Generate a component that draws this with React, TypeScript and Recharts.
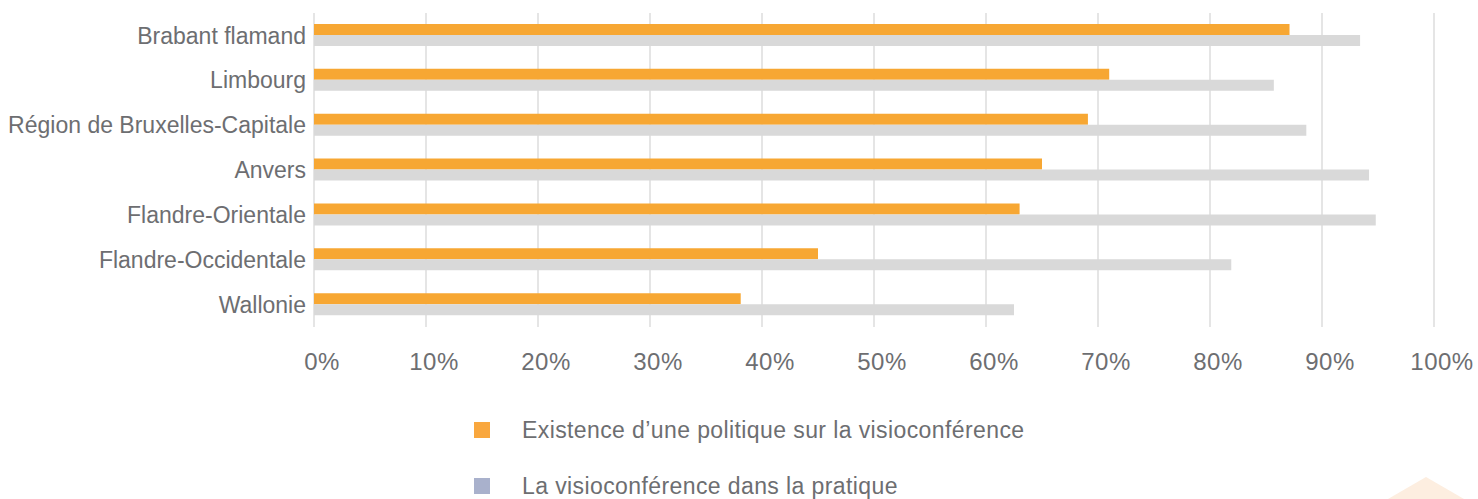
import { BarChart, Bar, XAxis, YAxis, CartesianGrid } from "recharts";

const regions = [
  "Brabant flamand",
  "Limbourg",
  "Région de Bruxelles-Capitale",
  "Anvers",
  "Flandre-Orientale",
  "Flandre-Occidentale",
  "Wallonie",
];
const politique = [87.1, 71.0, 69.1, 65.0, 63.0, 45.0, 38.1];
const pratique = [93.4, 85.7, 88.6, 94.2, 94.8, 81.9, 62.5];
const xTicks = [0, 10, 20, 30, 40, 50, 60, 70, 80, 90, 100];

const SERIES = [
  { key: "politique", label: "Existence d’une politique sur la visioconférence", fill: "#f7a733", swatch: "#f9a73e" },
  { key: "pratique", label: "La visioconférence dans la pratique", fill: "#d9d9d9", swatch: "#a9b1cc" },
];

const data = regions.map((region, i) => ({
  region,
  politique: politique[i],
  pratique: pratique[i],
}));

const TEXT = "#6d6e71";
const FONT = "'Liberation Sans', Arial, sans-serif";

// legend kept outside the chart so it doesn't eat plot height
function LegendBox() {
  return (
    <div
      style={{
        position: "absolute",
        left: 474,
        top: 402,
        fontFamily: FONT,
        fontSize: 23,
        letterSpacing: 0.4,
        color: TEXT,
      }}
    >
      {SERIES.map((s) => (
        <div key={s.key} style={{ display: "flex", alignItems: "center", height: 56 }}>
          <span style={{ width: 16, height: 16, background: s.swatch, display: "inline-block", marginRight: 32 }} />
          <span>{s.label}</span>
        </div>
      ))}
    </div>
  );
}

export default function App() {
  return (
    <div style={{ position: "absolute", left: 0, top: 0, width: 1478, height: 499, background: "#fff", overflow: "hidden" }}>
      <BarChart
        width={1478}
        height={499}
        data={data}
        layout="vertical"
        barGap={0}
        margin={{ top: 13, right: 44, bottom: 122, left: 0 }}
      >
        <CartesianGrid horizontal={false} stroke="#dcdcdc" strokeWidth={1.5} />
        <XAxis
          type="number"
          domain={[0, 100]}
          ticks={xTicks}
          tickFormatter={(v) => `${v}%`}
          axisLine={false}
          tickLine={false}
          tickMargin={20}
          height={50}
          tick={{ fill: TEXT, fontSize: 24, fontFamily: FONT, dx: 8, style: { letterSpacing: 0.5 } }}
        />
        <YAxis
          type="category"
          dataKey="region"
          width={314}
          interval={0}
          axisLine={false}
          tickLine={false}
          tick={{ fill: TEXT, fontSize: 23, fontFamily: FONT }}
        />
        {SERIES.map((s) => (
          <Bar key={s.key} dataKey={s.key} name={s.label} fill={s.fill} barSize={11} isAnimationActive={false} />
        ))}
      </BarChart>
      <LegendBox />
      <svg style={{ position: "absolute", left: 1388, top: 477 }} width={80} height={22}>
        <polygon points="0,22 38,0 76,22" fill="#fdeee0" />
      </svg>
    </div>
  );
}
